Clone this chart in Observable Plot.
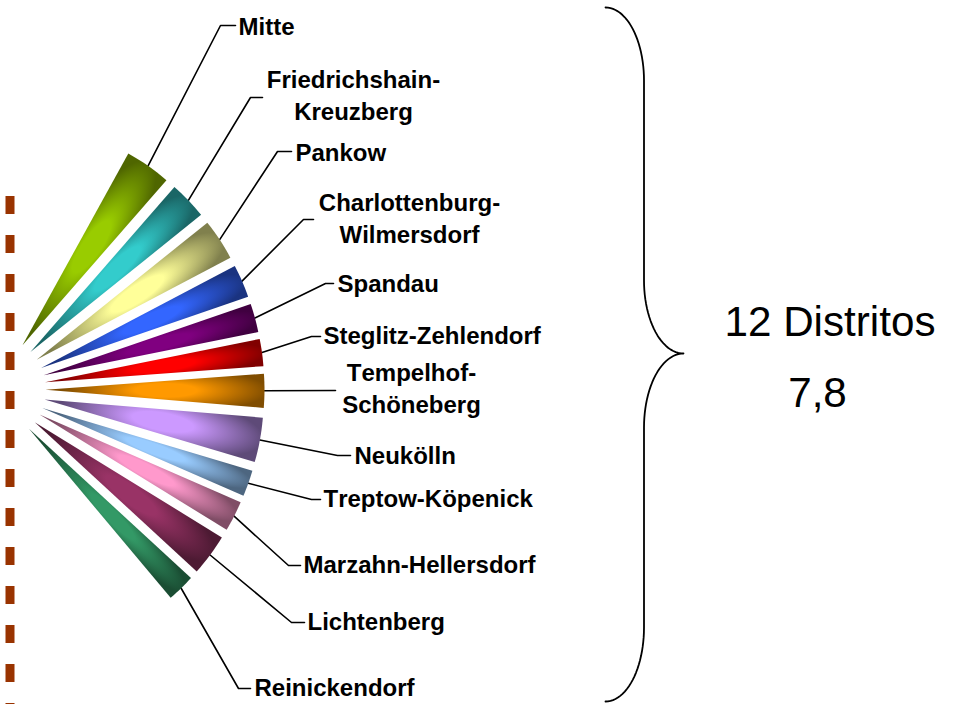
<!DOCTYPE html>
<html>
<head>
<meta charset="utf-8">
<style>html,body{margin:0;padding:0;background:#fff}svg{display:block}svg text{font-kerning:none}</style>
<script src="https://cdn.jsdelivr.net/npm/d3@7"></script>
<script src="https://cdn.jsdelivr.net/npm/@observablehq/plot@0.6"></script>
</head>
<body>
<script>
// Data
const districts = ["Mitte","Friedrichshain-Kreuzberg","Pankow","Charlottenburg-Wilmersdorf","Spandau","Steglitz-Zehlendorf","Tempelhof-Schöneberg","Neukölln","Treptow-Köpenick","Marzahn-Hellersdorf","Lichtenberg","Reinickendorf"];
const labelTexts = ["Mitte","Friedrichshain-\nKreuzberg","Pankow","Charlottenburg-\nWilmersdorf","Spandau","Steglitz-Zehlendorf","Tempelhof-\nSchöneberg","Neukölln","Treptow-Köpenick","Marzahn-Hellersdorf","Lichtenberg","Reinickendorf"];
const sweepDegrees = [12.2,10.1,11.0,8.8,7.6,7.2,8.9,11.7,6.9,8.0,11.0,7.4];
const brightColors = ["#99CC00","#33CCCC","#FFFF99","#3366FF","#800080","#FF0000","#FF9900","#CC99FF","#99CCFF","#FF99CC","#993366","#339966"];
const darkColors = ["#4F6600","#1A6666","#80804D","#1A3380","#400040","#800000","#804D00","#5E4A78","#4D6680","#804D66","#4D1A33","#1A4D33"];
const summaryLines = ["12 Distritos","7,8"];

// Layout of the exploded pie
const W = 957, H = 704;
const center = [-9, 389], explode = 54, radius = 219, startAngle = 61.1, lowerStretch = 1.012;
const rad = d => d * Math.PI / 180;
const stretch = y => y > center[1] ? center[1] + (y - center[1]) * lowerStretch : y;

// Label placement: elbow point, horizontal run end, text position, anchor
const labelLayout = [
  {elbow:[220,25],  run:235, tx:238, ty:24,  anchor:"start"},
  {elbow:[250,97],  run:262, tx:353, ty:93,  anchor:"middle"},
  {elbow:[277,151], run:291, tx:295, ty:150, anchor:"start"},
  {elbow:[303,219], run:313, tx:409, ty:216, anchor:"middle"},
  {elbow:[325,283], run:333, tx:337, ty:281, anchor:"start"},
  {elbow:[311,336], run:320, tx:323, ty:333, anchor:"start"},
  {elbow:[335,390], run:335, tx:411, ty:386, anchor:"middle"},
  {elbow:[337,455], run:350, tx:354, ty:453, anchor:"start"},
  {elbow:[311,499], run:320, tx:323, ty:496, anchor:"start"},
  {elbow:[288,565], run:300, tx:303, ty:562, anchor:"start"},
  {elbow:[291,622], run:304, tx:307, ty:619, anchor:"start"},
  {elbow:[238,688], run:250, tx:254, ty:685, anchor:"start"}
];

// Slices from the sweep values
let cursor = startAngle;
const slices = districts.map((name, i) => {
  const a0 = cursor, a1 = cursor - sweepDegrees[i];
  cursor = a1;
  const mid = (a0 + a1) / 2;
  const tip = [center[0] + explode * Math.cos(rad(mid)), center[1] - explode * Math.sin(rad(mid))];
  const at = (a, r) => [tip[0] + r * Math.cos(rad(a)), stretch(tip[1] - r * Math.sin(rad(a)))];
  const pts = [at(mid, 0)];
  for (let k = 0; k <= 8; k++) pts.push(at(a0 + (a1 - a0) * k / 8, radius));
  pts.push(at(mid, 0));
  return {name, i, mid, tip, at, pts, halfWidth: 0.55 * radius * Math.tan(rad(sweepDegrees[i] / 2))};
});

// Gradient definitions (bright core fading to a dark rim)
const defsMark = () => {
  const defs = d3.create("svg:defs");
  slices.forEach(s => {
    const c = s.at(s.mid, 0.55 * radius);
    const g = defs.append("radialGradient").attr("id", "slice" + s.i)
      .attr("gradientUnits", "userSpaceOnUse").attr("cx", 0).attr("cy", 0).attr("r", 1)
      .attr("gradientTransform", `translate(${c[0]},${c[1]}) rotate(${-s.mid}) scale(${0.47 * radius},${s.halfWidth * 2.4})`);
    g.append("stop").attr("offset", "0%").attr("stop-color", brightColors[s.i]);
    g.append("stop").attr("offset", "30%").attr("stop-color", brightColors[s.i]);
    g.append("stop").attr("offset", "100%").attr("stop-color", darkColors[s.i]);
  });
  return defs.node();
};

// Leader lines
const leaders = slices.flatMap(s => {
  const l = labelLayout[s.i];
  return [s.at(s.mid, radius), l.elbow, [l.run, l.elbow[1]]].map(p => ({name: s.name, x: p[0], y: p[1]}));
});

// Curly brace built from elliptical quarters
const braceX = [605, 643.5, 683], braceY = [7, 80, 280, 353, 427, 627, 701];
const quarter = (x0, y0, x1, y1, horizontalFirst) => d3.range(0, 25).map(k => {
  const t = k / 24 * Math.PI / 2;
  return horizontalFirst
    ? {x: x0 + (x1 - x0) * Math.sin(t), y: y1 + (y0 - y1) * Math.cos(t)}
    : {x: x1 + (x0 - x1) * Math.cos(t), y: y0 + (y1 - y0) * Math.sin(t)};
});
const brace = [
  ...quarter(braceX[0], braceY[0], braceX[1], braceY[1], true),
  ...quarter(braceX[1], braceY[2], braceX[2], braceY[3], false),
  ...quarter(braceX[2], braceY[3], braceX[1], braceY[4], true),
  ...quarter(braceX[1], braceY[5], braceX[0], braceY[6], false)
];

const font = "Liberation Sans, Arial, sans-serif";
const labelMark = anchor => Plot.text(slices.filter(s => labelLayout[s.i].anchor === anchor), {
  x: s => labelLayout[s.i].tx, y: s => labelLayout[s.i].ty,
  text: s => labelTexts[s.i], textAnchor: anchor,
  fontFamily: font, fontWeight: "bold", fontSize: 24, lineHeight: 1.37, fill: "#000"
});
const plot = Plot.plot({
  width: W, height: H,
  margin: 0,
  x: {domain: [0, W], range: [0, W], axis: null},
  y: {domain: [0, H], range: [0, H], axis: null},
  style: {background: "#fff"},
  marks: [
    defsMark,
    Plot.ruleX([9.5], {y1: 196, y2: H, stroke: "#993300", strokeWidth: 9, strokeDasharray: "18,21"}),
    Plot.line(leaders, {x: "x", y: "y", z: "name", stroke: "#000", strokeWidth: 1.6, curve: "linear"}),
    ...slices.map(s => Plot.line(s.pts, {x: d => d[0], y: d => d[1], fill: `url(#slice${s.i})`, stroke: "none", curve: "linear"})),
    labelMark("start"),
    labelMark("middle"),
    Plot.line(brace, {x: "x", y: "y", stroke: "#000", strokeWidth: 1.8, curve: "linear"}),
    Plot.text([summaryLines[0]], {x: [829.5], y: [322], text: d => d, fontFamily: font, fontSize: 42.2, fill: "#000"}),
    Plot.text([summaryLines[1]], {x: [817], y: [393], text: d => d, fontFamily: font, fontSize: 42.2, fill: "#000"})
  ]
});
document.body.appendChild(plot);
</script>
</body>
</html>
